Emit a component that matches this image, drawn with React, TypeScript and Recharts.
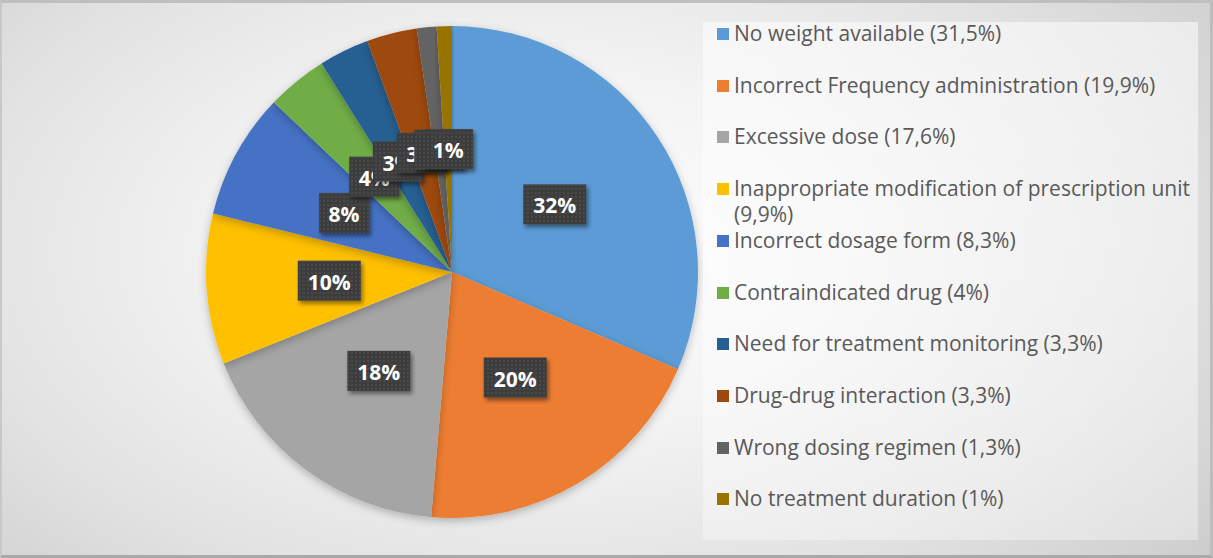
import React from "react";
import { PieChart, Pie, Cell, Legend } from "recharts";

// error categories, share of prescriptions (%)
const CATEGORIES = [
  "No weight available",
  "Incorrect Frequency administration",
  "Excessive dose",
  "Inappropriate modification of prescription unit",
  "Incorrect dosage form",
  "Contraindicated drug",
  "Need for treatment monitoring",
  "Drug-drug interaction",
  "Wrong dosing regimen",
  "No treatment duration",
];
const SHARES = [31.5, 19.9, 17.6, 9.9, 8.3, 4, 3.3, 3.3, 1.3, 1];
const SHARE_LABELS = ["31,5%", "19,9%", "17,6%", "9,9%", "8,3%", "4%", "3,3%", "3,3%", "1,3%", "1%"];
const COLORS = [
  "#5B9BD5", "#ED7D31", "#A5A5A5", "#FFC000", "#4472C4",
  "#70AD47", "#255E91", "#9E480E", "#636363", "#997300",
];

const data = CATEGORIES.map((name, i) => ({ name, value: SHARES[i], pct: SHARE_LABELS[i] }));

const W = 1213;
const H = 558;
const FONT = "'Open Sans', 'Noto Sans', sans-serif";

function SliceLabel({ cx, cy, midAngle, outerRadius, value }: any) {
  const RAD = Math.PI / 180;
  const r = outerRadius * 0.5;
  const x = cx + r * Math.cos(-midAngle * RAD);
  const y = cy + r * Math.sin(-midAngle * RAD);
  const txt = `${Math.round(value)}%`;
  const w = txt.length === 3 ? 63 : 50;
  return (
    <g>
      <rect x={x - w / 2} y={y - 20} width={w} height={40} fill="url(#dots)" filter="url(#lblShadow)" />
      <text
        x={x}
        y={y + 1}
        textAnchor="middle"
        dominantBaseline="central"
        fill="#fff"
        style={{ fontFamily: FONT, fontSize: 21, fontWeight: 700 }}
      >
        {txt}
      </text>
    </g>
  );
}

// legend keeps the data order (Recharts would sort the payload by name)
function LegendBox() {
  return (
    <div
      style={{
        position: "relative",
        width: 495,
        height: 518,
        background: "linear-gradient(180deg, rgba(255,255,255,0.55), rgba(255,255,255,0.35))",
      }}
    >
      {data.map((d, i) => (
        <div
          key={d.name}
          style={{ position: "absolute", left: 14, top: 11 + i * 51.7 - 13, width: 480, display: "flex" }}
        >
          <span
            style={{ width: 12, height: 12, background: COLORS[i], marginTop: 8, marginRight: 5, flexShrink: 0 }}
          />
          <span style={{ fontFamily: FONT, fontSize: 21, lineHeight: "26px", color: "#595959", width: 463 }}>
            {d.name} ({d.pct})
          </span>
        </div>
      ))}
    </div>
  );
}

export default function App() {
  return (
    <div
      style={{
        position: "absolute",
        left: 0,
        top: 0,
        width: W,
        height: H,
        boxSizing: "border-box",
        borderTop: "3px solid #bfbfbf",
        borderLeft: "2px solid #c8c8c8",
        borderRight: "3px solid #bdbdbd",
        borderBottom: "3px solid #a9a9a9",
        background: "radial-gradient(ellipse 70% 90% at 45% 45%, #ffffff 0%, #f4f4f4 35%, #e2e2e2 70%, #cdcdcd 100%)",
        overflow: "hidden",
      }}
    >
      <PieChart width={W - 5} height={H - 6} style={{ position: "absolute", left: 0, top: 0 }}>
        <defs>
          <pattern id="dots" width="4" height="4" patternUnits="userSpaceOnUse">
            <rect width="4" height="4" fill="#3c3c3c" />
            <circle cx="2" cy="2" r="0.8" fill="#585858" />
          </pattern>
          <filter id="lblShadow" x="-20%" y="-20%" width="150%" height="160%">
            <feDropShadow dx="2" dy="3" stdDeviation="2" floodColor="#000" floodOpacity="0.45" />
          </filter>
          <filter id="pieShadow" x="-10%" y="-10%" width="120%" height="120%">
            <feDropShadow dx="0" dy="3" stdDeviation="4" floodColor="#000" floodOpacity="0.25" />
          </filter>
        </defs>
        <Pie
          data={data}
          dataKey="value"
          nameKey="name"
          cx={445}
          cy={264}
          outerRadius={246}
          startAngle={90}
          endAngle={-270}
          stroke="none"
          label={SliceLabel}
          labelLine={false}
          isAnimationActive={false}
          style={{ filter: "url(#pieShadow)" }}
        >
          {data.map((d, i) => (
            <Cell key={d.name} fill={COLORS[i]} />
          ))}
        </Pie>
        <Legend
          layout="vertical"
          align="right"
          verticalAlign="top"
          content={<LegendBox />}
          wrapperStyle={{ position: "absolute", left: 701, top: 19, width: 495 }}
        />
      </PieChart>
    </div>
  );
}
